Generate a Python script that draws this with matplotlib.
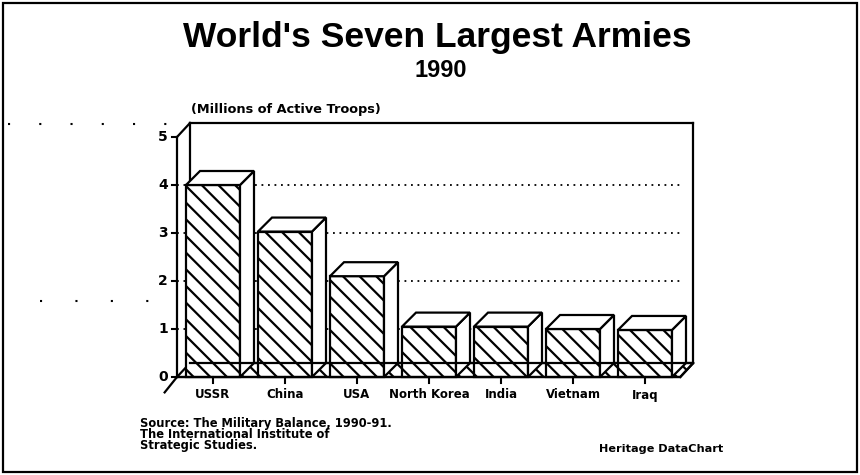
import matplotlib
matplotlib.use("Agg")
import matplotlib.pyplot as plt
from matplotlib.patches import Polygon, Rectangle

# ---- data ----
countries = ["USSR", "China", "USA", "North Korea", "India", "Vietnam", "Iraq"]
troops = [4.0, 3.03, 2.1, 1.05, 1.05, 1.0, 0.98]   # millions of active troops
y_ticks = [0, 1, 2, 3, 4, 5]
title = "World's Seven Largest Armies"
subtitle = "1990"
unit_label = "(Millions of Active Troops)"
source_lines = ["Source: The Military Balance, 1990-91.",
                "The International Institute of",
                "Strategic Studies."]
credit = "Heritage DataChart"

W, H = 860, 475
plt.rcParams['font.family'] = ['Liberation Sans', 'DejaVu Sans']
plt.rcParams['hatch.linewidth'] = 1.6
plt.rcParams['hatch.color'] = 'black'
SMALL = ['DejaVu Sans']
BIG = ['Liberation Sans', 'DejaVu Sans']

fig = plt.figure(figsize=(W / 100, H / 100), dpi=100)
fig.patch.set_facecolor('white')

def fx(px):
    return px / W

def fy(py):
    return 1 - py / H

# axes: front plane x from pixel 177 (x=-0.5) to 695, y from 377 (0) to 123
ax_l, ax_r, ax_t, ax_b = 177, 695, 123, 377
ax = fig.add_axes([fx(ax_l), fy(ax_b), fx(ax_r) - fx(ax_l), fy(ax_t) - fy(ax_b)])
px_per_x = 72.0
px_per_y = 48.0
x0_data = -0.5
ax.set_xlim(x0_data, x0_data + (ax_r - ax_l) / px_per_x)
ax.set_ylim(0, (ax_b - ax_t) / px_per_y)
ax.axis('off')

dx = 13 / px_per_x
dy = 14 / px_per_y
ymax = 5
xf0 = -0.5
xf1 = 6.49
xb0, xb1 = xf0 + dx, xf1 + dx
lw = 1.6
kw = dict(color='black', lw=lw, clip_on=False, solid_capstyle='projecting')

# back wall
ax.plot([xb0, xb0], [dy, ymax + dy], zorder=1, **kw)
ax.plot([xb0, xb1], [ymax + dy, ymax + dy], zorder=1, **kw)
ax.plot([xb1, xb1], [dy, ymax + dy], zorder=1, **kw)
# left side wall
ax.plot([xf0, xf0], [0, ymax], zorder=6, **kw)
ax.plot([xf0, xb0], [ymax, ymax + dy], zorder=1, **kw)
ax.plot([xf0 - dx * 0.95, xf0], [-dy * 1.1, 0], zorder=6, **kw)

# gridlines
for v in y_ticks[1:-1]:
    ax.plot([xf0, xf1 + 0.03], [v, v], color='black', lw=1.3,
            linestyle=(0, (1, 2.6)), zorder=1, clip_on=False)

# floor
floor = Polygon([(xf0, 0), (xf1, 0), (xb1, dy), (xb0, dy)], closed=True,
                facecolor='white', edgecolor='black', hatch='\\\\', lw=lw,
                zorder=2, clip_on=False)
ax.add_patch(floor)

# bars
bw = 0.75
bdx = 14 / px_per_x
bdy = 14 / px_per_y
for i, v in enumerate(troops):
    l, r = i - bw / 2, i + bw / 2
    front = Polygon([(l, 0), (r, 0), (r, v), (l, v)], closed=True,
                    facecolor='white', edgecolor='black', hatch='\\\\', lw=lw,
                    zorder=3, clip_on=False)
    side = Polygon([(r, 0), (r + bdx, bdy), (r + bdx, v + bdy), (r, v)], closed=True,
                   facecolor='white', edgecolor='black', lw=lw, zorder=3, clip_on=False)
    top = Polygon([(l, v), (l + bdx, v + bdy), (r + bdx, v + bdy), (r, v)], closed=True,
                  facecolor='white', edgecolor='black', lw=lw, zorder=3, clip_on=False)
    for p in (front, side, top):
        ax.add_patch(p)
    # x tick + label
    ax.plot([i, i], [0, -6 / px_per_y], color='black', lw=1.5, zorder=6, clip_on=False)
    ax.text(i, -18 / px_per_y, countries[i], ha='center', va='center',
            fontsize=8.5, fontweight='bold', family=SMALL, zorder=6)

# floor back edge drawn over bars (as in the original)
ax.plot([xb0, xb1], [dy, dy], zorder=5, **kw)
ax.plot([xf0, xf1], [0, 0], zorder=5, **kw)
ax.plot([xf1, xb1], [0, dy], zorder=5, **kw)

# y ticks and labels
for v in y_ticks:
    ax.plot([xf0 - 5 / px_per_x, xf0], [v, v], color='black', lw=1.5, zorder=6, clip_on=False)
    ax.text(xf0 - 9 / px_per_x, v, str(v), ha='right', va='center',
            fontsize=10, fontweight='bold', family=SMALL)

# texts
fig.text(fx(437), fy(47), title, ha='center', va='baseline', fontsize=25.5,
         fontweight='bold', family=BIG)
fig.text(fx(441), fy(77), subtitle, ha='center', va='baseline', fontsize=17,
         fontweight='bold', family=BIG)
fig.text(fx(191), fy(110), unit_label, ha='left', va='center', fontsize=9.3,
         fontweight='bold', family=SMALL)
for k, line in enumerate(source_lines):
    fig.text(fx(140), fy(423 + 11.5 * k), line, ha='left', va='center',
             fontsize=8.3, fontweight='bold', family=SMALL)
fig.text(fx(599), fy(449), credit, ha='left', va='center', fontsize=8.1,
         fontweight='bold', family=SMALL)

# scan artifacts: sparse dots at left
fig.add_artist(plt.Line2D([fx(8), fx(172)], [fy(124), fy(124)], color='black',
                          lw=1.5, linestyle=(0, (1, 14))))
fig.add_artist(plt.Line2D([fx(40), fx(165)], [fy(301), fy(301)], color='black',
                          lw=1.5, linestyle=(0, (1, 16))))

# border
fig.add_artist(Rectangle((fx(3), fy(472)), fx(857) - fx(3), fy(3) - fy(472),
                         transform=fig.transFigure, fill=False, edgecolor='black',
                         lw=1.6))

fig.savefig("out.png", dpi=100, facecolor='white')
